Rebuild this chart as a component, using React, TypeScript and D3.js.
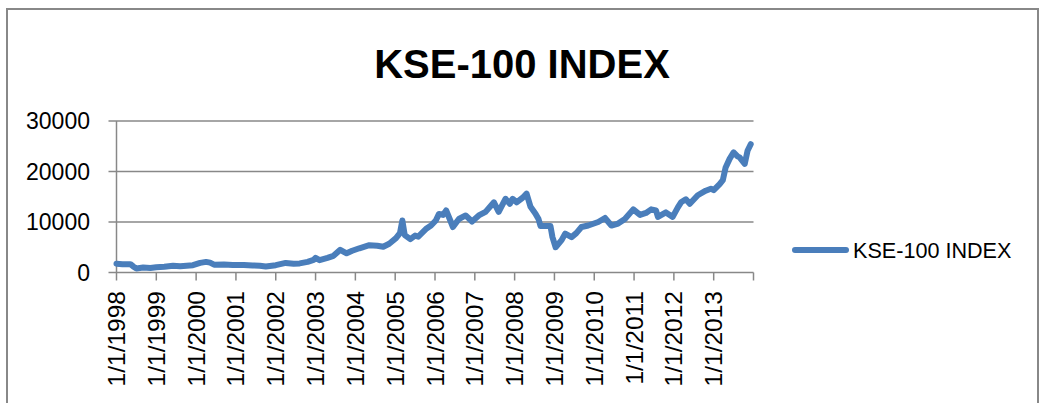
import React from "react";
import * as d3 from "d3";

// decimal year of each reading
const years: number[] = [
  1998.0, 1998.15, 1998.35, 1998.42, 1998.5, 1998.67, 1998.85, 1999.0, 1999.2, 1999.42,
  1999.6, 1999.92, 2000.1, 2000.25, 2000.35, 2000.45, 2000.7, 2000.92, 2001.2, 2001.42,
  2001.6, 2001.75, 2002.0, 2002.25, 2002.45, 2002.6, 2002.8, 2002.95, 2003.0, 2003.1,
  2003.3, 2003.45, 2003.62, 2003.78, 2003.92, 2004.1, 2004.35, 2004.55, 2004.7, 2004.85,
  2005.02, 2005.12, 2005.18, 2005.24, 2005.38, 2005.5, 2005.58, 2005.77, 2005.9, 2006.02,
  2006.1, 2006.2, 2006.28, 2006.4, 2006.45, 2006.6, 2006.77, 2006.93, 2007.1, 2007.27,
  2007.48, 2007.6, 2007.77, 2007.88, 2007.95, 2008.05, 2008.2, 2008.3, 2008.4, 2008.52,
  2008.6, 2008.65, 2008.9, 2008.95, 2009.03, 2009.18, 2009.27, 2009.43, 2009.55, 2009.68,
  2009.85, 2010.1, 2010.27, 2010.43, 2010.6, 2010.77, 2010.98, 2011.15, 2011.3, 2011.43,
  2011.55, 2011.6, 2011.8, 2011.97, 2012.1, 2012.18, 2012.3, 2012.4, 2012.6, 2012.8,
  2012.93, 2013.0, 2013.15, 2013.23, 2013.3, 2013.4, 2013.5, 2013.6, 2013.65, 2013.78,
  2013.85, 2013.93,
];

// KSE-100 index values
const kse100: number[] = [
  1750, 1650, 1650, 1200, 800, 990, 900, 1050, 1150, 1350,
  1250, 1450, 1900, 2100, 1950, 1550, 1600, 1500, 1500, 1400,
  1350, 1200, 1450, 1900, 1750, 1800, 2100, 2500, 2900, 2450,
  2900, 3300, 4500, 3800, 4300, 4800, 5400, 5300, 5100, 5700,
  6800, 7800, 10300, 7400, 6600, 7300, 7100, 8600, 9300, 10300,
  11600, 11400, 12300, 10000, 9000, 10600, 11300, 10100, 11300, 12000,
  13900, 12000, 14600, 13600, 14600, 13900, 14800, 15600, 13000, 11700,
  10600, 9200, 9200, 7000, 5000, 6400, 7700, 7000, 7800, 9000,
  9300, 10000, 10800, 9300, 9700, 10600, 12500, 11400, 11800, 12500,
  12300, 11000, 11900, 11000, 12900, 13900, 14500, 13600, 15300, 16200,
  16600, 16300, 17500, 18300, 20800, 22500, 23800, 23000, 22800, 21500,
  24100, 25400,
];

const yTicks: number[] = [0, 10000, 20000, 30000];
const xTickYears: number[] = d3.range(1998, 2015);
const xLabelYears: number[] = d3.range(1998, 2014);

const title = "KSE-100 INDEX";
const seriesName = "KSE-100 INDEX";

export default function App() {
  const W = 1040;
  const H = 403;
  const x = d3.scaleLinear().domain([1998, 2014]).range([116.5, 753.5]);
  const y = d3.scaleLinear().domain([0, 30000]).range([272.5, 121]);
  const data = years.map((t, i) => [t, kse100[i]] as [number, number]);
  const line = d3
    .line<[number, number]>()
    .x((d) => x(d[0]))
    .y((d) => y(d[1]));
  const grey = "#888888";
  const blue = "#4a7ebb";
  const font = "'Liberation Sans', Arial, sans-serif";

  return (
    <svg
      width={W}
      height={H}
      style={{ position: "absolute", left: 0, top: 0, background: "#fff" }}
      fontFamily={font}
    >
      <rect x={0} y={0} width={W} height={H} fill="#fff" />
      <rect x={7} y={9} width={1031} height={420} fill="none" stroke={grey} strokeWidth={2} />
      <text x={522} y={78} textAnchor="middle" fontSize={40} fontWeight="bold" fill="#000">
        {title}
      </text>
      {/* gridlines */}
      {yTicks.slice(1).map((v) => (
        <line key={v} x1={x(1998) - 8} x2={x(2014)} y1={y(v)} y2={y(v)} stroke={grey} strokeWidth={1.5} />
      ))}
      {/* axes */}
      <line x1={x(1998)} x2={x(1998)} y1={y(30000)} y2={y(0)} stroke={grey} strokeWidth={1.5} />
      <line x1={x(1998) - 8} x2={x(2014)} y1={y(0)} y2={y(0)} stroke={grey} strokeWidth={1.5} />
      {yTicks.map((v) => (
        <text key={v} x={90} y={y(v) + 8} textAnchor="end" fontSize={23} fill="#000">
          {v}
        </text>
      ))}
      {xTickYears.map((t) => (
        <line key={t} x1={x(t)} x2={x(t)} y1={y(0)} y2={y(0) + 8} stroke={grey} strokeWidth={1.5} />
      ))}
      {xLabelYears.map((t) => (
        <text
          key={t}
          transform={`translate(${x(t) + 8.5},291) rotate(-90)`}
          textAnchor="end"
          fontSize={24.5}
          fill="#000"
        >
          {`1/1/${t}`}
        </text>
      ))}
      <path
        d={line(data) || ""}
        fill="none"
        stroke={blue}
        strokeWidth={6}
        strokeLinejoin="round"
        strokeLinecap="round"
      />
      {/* legend */}
      <line x1={795} x2={846} y1={250} y2={250} stroke={blue} strokeWidth={6} strokeLinecap="round" />
      <text x={853} y={258} fontSize={21.6} fill="#000">
        {seriesName}
      </text>
    </svg>
  );
}
